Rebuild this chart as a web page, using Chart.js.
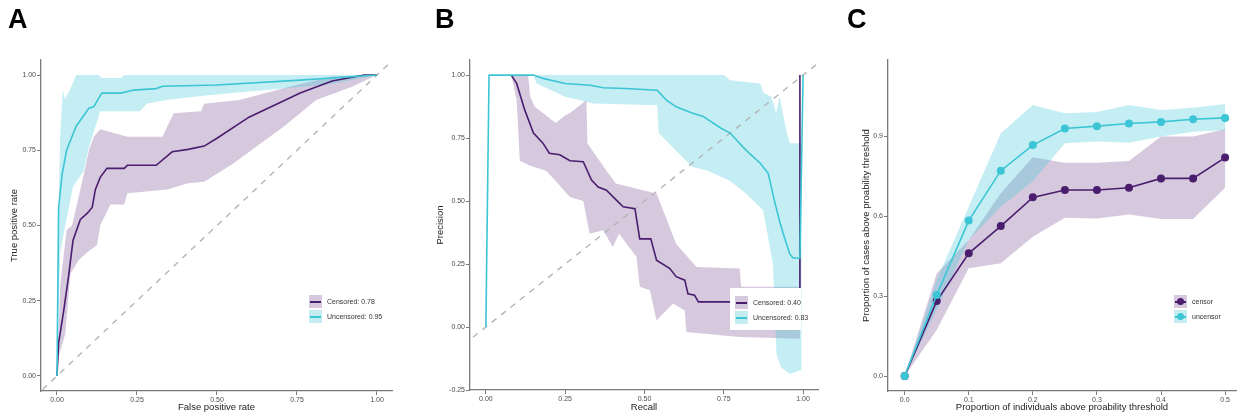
<!DOCTYPE html>
<html lang="en">
<head>
<meta charset="UTF-8">
<title>ROC, precision-recall and threshold curves</title>
<script src="https://cdn.jsdelivr.net/npm/chart.js@4.4.0/dist/chart.umd.min.js"></script>
<style>
  body { margin: 0; background: #fff; font-family: "Liberation Sans", Arial, sans-serif; }
  #wrap { position: relative; width: 1240px; height: 420px; overflow: hidden; }
  canvas { position: absolute; top: 0; }
  .tag { position: absolute; top: 6px; font-size: 27px; font-weight: bold; line-height: 1; color: #000; }
  .legend { position: absolute; font-size: 7px; color: #333; }
  .legend.boxed { background: #fff; }
  .row { position: relative; height: 15px; }
  .key { position: absolute; left: 0; top: 0; width: 13px; height: 13px; }
  .key::after { content: ""; position: absolute; left: 1px; right: 1px; top: 5.5px; height: 2px; background: var(--c); }
  .key.dot::before { content: ""; position: absolute; left: 3px; top: 3px; width: 7px; height: 7px; border-radius: 50%; background: var(--c); }
  .lab { position: absolute; left: 18px; top: 0; line-height: 13px; white-space: nowrap; }
  .cen { background: #d6c9de; --c: #4a1d6e; }
  .unc { background: #c4ecf1; --c: #3cc5d5; }
</style>
</head>
<body>
<div id="wrap">
  <canvas id="chartA" width="410" height="420" style="left:0"></canvas>
  <canvas id="chartB" width="420" height="420" style="left:410px"></canvas>
  <canvas id="chartC" width="410" height="420" style="left:830px"></canvas>

  <div class="tag" style="left:8px">A</div>
  <div class="tag" style="left:435px">B</div>
  <div class="tag" style="left:847px">C</div>

  <div class="legend" style="left:309px;top:295px">
    <div class="row"><span class="key cen"></span><span class="lab">Censored: 0.78</span></div>
    <div class="row"><span class="key unc"></span><span class="lab">Uncensored: 0.95</span></div>
  </div>
  <div class="legend boxed" style="left:730px;top:288px;width:71px;height:42px">
    <div style="position:absolute;left:5px;top:8px">
      <div class="row"><span class="key cen"></span><span class="lab">Censored: 0.40</span></div>
      <div class="row"><span class="key unc"></span><span class="lab">Uncensored: 0.83</span></div>
    </div>
  </div>
  <div class="legend" style="left:1174px;top:295px">
    <div class="row"><span class="key dot cen"></span><span class="lab">censor</span></div>
    <div class="row"><span class="key dot unc"></span><span class="lab">uncensor</span></div>
  </div>
</div>

<script>
  // --- Panel A: ROC (false positive rate, true positive rate) ---
  const rocUncensored = [[0,0],[0.005,0.56],[0.016,0.67],[0.03,0.75],[0.06,0.83],[0.1,0.89],[0.115,0.895],[0.14,0.94],[0.2,0.94],[0.24,0.95],[0.31,0.955],[0.33,0.963],[0.5,0.967],[0.76,0.983],[0.86,0.99],[1,1]];
  const rocUncensoredHi = [[0,0],[0.003,0.45],[0.01,0.8],[0.018,0.95],[0.025,0.92],[0.04,0.95],[0.06,1],[0.13,1],[0.14,0.99],[0.2,0.99],[0.21,1],[1,1]];
  const rocUncensoredLo = [[0,0],[0.01,0.41],[0.026,0.5],[0.05,0.63],[0.083,0.68],[0.1,0.76],[0.135,0.88],[0.26,0.88],[0.28,0.905],[0.34,0.917],[0.45,0.93],[0.6,0.945],[0.76,0.96],[0.86,0.97],[1,1]];
  const rocCensored = [[0,0],[0.005,0.11],[0.02,0.21],[0.036,0.33],[0.05,0.45],[0.073,0.52],[0.094,0.54],[0.11,0.56],[0.12,0.62],[0.135,0.66],[0.156,0.69],[0.21,0.69],[0.22,0.7],[0.31,0.7],[0.36,0.745],[0.41,0.753],[0.46,0.764],[0.5,0.79],[0.6,0.86],[0.76,0.94],[0.86,0.98],[0.96,1],[1,1]];
  const rocCensoredHi = [[0,0],[0.01,0.3],[0.03,0.485],[0.047,0.5],[0.073,0.62],[0.1,0.75],[0.115,0.795],[0.135,0.82],[0.22,0.795],[0.33,0.795],[0.345,0.83],[0.365,0.873],[0.45,0.88],[0.46,0.905],[0.57,0.917],[0.76,0.97],[0.86,0.995],[1,1]];
  const rocCensoredLo = [[0,0],[0.005,0.064],[0.026,0.14],[0.042,0.34],[0.068,0.385],[0.094,0.41],[0.125,0.435],[0.135,0.5],[0.167,0.57],[0.21,0.57],[0.22,0.607],[0.345,0.62],[0.41,0.64],[0.46,0.645],[0.55,0.705],[0.71,0.83],[0.81,0.917],[0.92,0.96],[1,1]];

  // --- Panel B: precision-recall (recall, precision) ---
  const prUncensored = [[0,0],[0.01,1],[0.15,1],[0.18,0.987],[0.25,0.967],[0.33,0.96],[0.37,0.95],[0.44,0.947],[0.54,0.94],[0.57,0.9],[0.6,0.874],[0.65,0.85],[0.685,0.836],[0.74,0.79],[0.77,0.77],[0.81,0.715],[0.83,0.69],[0.865,0.65],[0.89,0.61],[0.91,0.5],[0.926,0.42],[0.94,0.36],[0.958,0.29],[0.968,0.274],[0.99,0.274],[1,1]];
  const prUncensoredHi = [[0.15,1],[0.75,1],[0.77,0.98],[0.865,0.967],[0.875,0.93],[0.9,0.914],[0.915,0.85],[0.926,0.914],[0.947,0.78],[0.958,0.73],[0.995,0.73]];
  const prUncensoredLo = [[0.15,1],[0.16,0.967],[0.25,0.914],[0.34,0.887],[0.54,0.88],[0.545,0.77],[0.6,0.7],[0.65,0.636],[0.7,0.62],[0.77,0.58],[0.82,0.53],[0.874,0.464],[0.905,0.25],[0.916,-0.106],[0.93,-0.16],[0.958,-0.186],[0.995,-0.17]];
  const prCensored = [[0.08,1],[0.097,0.967],[0.123,0.86],[0.15,0.77],[0.18,0.73],[0.2,0.69],[0.233,0.684],[0.265,0.66],[0.307,0.656],[0.333,0.583],[0.354,0.556],[0.38,0.543],[0.417,0.497],[0.433,0.477],[0.47,0.47],[0.485,0.35],[0.52,0.35],[0.538,0.265],[0.58,0.232],[0.6,0.2],[0.627,0.186],[0.637,0.132],[0.658,0.126],[0.67,0.1],[0.99,0.1],[0.99,1]];
  const prCensoredHi = [[0.08,1],[0.133,1],[0.14,0.914],[0.154,0.874],[0.18,0.85],[0.22,0.81],[0.25,0.84],[0.265,0.85],[0.275,0.86],[0.317,0.9],[0.32,0.73],[0.38,0.62],[0.41,0.57],[0.495,0.543],[0.538,0.53],[0.567,0.437],[0.6,0.33],[0.664,0.238],[0.8,0.232],[0.805,0.16],[0.99,0.16]];
  const prCensoredLo = [[0.08,1],[0.097,0.9],[0.107,0.66],[0.14,0.64],[0.19,0.62],[0.22,0.58],[0.265,0.516],[0.307,0.5],[0.327,0.37],[0.37,0.384],[0.4,0.318],[0.42,0.37],[0.475,0.278],[0.485,0.16],[0.517,0.146],[0.538,0.026],[0.59,0.093],[0.627,0.066],[0.632,-0.02],[0.8,-0.04],[0.99,-0.047]];

  // --- Panel C: proportion of cases above threshold ---
  const thresholds = [0, 0.05, 0.1, 0.15, 0.2, 0.25, 0.3, 0.35, 0.4, 0.45, 0.5];
  const uncensor   = [0, 0.304, 0.583, 0.77, 0.866, 0.928, 0.937, 0.947, 0.953, 0.963, 0.968];
  const uncensorHi = [0, 0.36, 0.635, 0.91, 1.016, 0.985, 0.99, 1.016, 0.998, 1.006, 1.02];
  const uncensorLo = [0, 0.25, 0.51, 0.635, 0.73, 0.873, 0.879, 0.875, 0.898, 0.916, 0.922];
  const censor     = [0, 0.281, 0.46, 0.5625, 0.67, 0.6975, 0.6975, 0.706, 0.741, 0.741, 0.819];
  const censorHi   = [0, 0.385, 0.51, 0.685, 0.82, 0.8, 0.8, 0.806, 0.898, 0.898, 0.925];
  const censorLo   = [0, 0.1725, 0.404, 0.4225, 0.5225, 0.594, 0.591, 0.606, 0.589, 0.589, 0.706];

  const ticksUnit = [0, 0.25, 0.5, 0.75, 1];
  const ticksPrecision = [-0.25, 0, 0.25, 0.5, 0.75, 1];
  const ticksCx = [0, 0.1, 0.2, 0.3, 0.4, 0.5];
  const ticksCy = [0, 0.3, 0.6, 0.9];

  const FONT = '"Liberation Sans", Arial, sans-serif';
  const PURPLE = '#4a1d6e', PURPLE_FILL = 'rgba(120,75,145,0.3)';
  const CYAN = '#3cc5d5', CYAN_FILL = 'rgba(60,200,215,0.3)';

  const toPts = arr => arr.map(([x, y]) => ({ x, y }));
  const zipPts = (xs, ys) => xs.map((x, i) => [x, ys[i]]);

  function band(up, lo, color, order) {
    return { data: toPts(up.concat(lo.slice().reverse())), fill: 'shape', backgroundColor: color,
             borderWidth: 0, pointRadius: 0, order: order };
  }
  function curve(pts, color, order, radius) {
    return { data: toPts(pts), borderColor: color, backgroundColor: color, borderWidth: 1.6,
             pointRadius: radius || 0, pointBorderWidth: 0, fill: false, order: order };
  }
  function diagonal() {
    return { data: toPts([[-0.1, -0.1], [1.1, 1.1]]), borderColor: '#b5b5b5', borderDash: [6, 6],
             borderWidth: 1.4, pointRadius: 0, fill: false, order: 4 };
  }

  function scaleOpts(min, max, ticks, digits, title, size, isX) {
    return {
      type: 'linear', min: min, max: max,
      grid: { display: true, drawOnChartArea: false, drawTicks: true, tickLength: 4, color: '#7a7a7a' },
      border: { display: true, color: '#7a7a7a', width: 1.3 },
      ticks: { padding: 1, color: '#4d4d4d', autoSkip: false, maxRotation: 0,
               font: { size: 7, family: FONT }, callback: v => Number(v).toFixed(digits) },
      title: { display: true, text: title, color: '#222', font: { size: 9.5, family: FONT },
               padding: isX ? { top: 0, bottom: 7 } : { top: 9, bottom: 0 } },
      afterBuildTicks: s => { s.ticks = ticks.map(v => ({ value: v })); },
      afterFit: s => { if (isX) s.height = size; else s.width = size; }
    };
  }

  function makeChart(id, datasets, x, y, padding) {
    return new Chart(document.getElementById(id), {
      type: 'line',
      data: { datasets: datasets },
      options: {
        responsive: false, animation: false, events: [],
        layout: { padding: padding },
        plugins: { legend: { display: false }, tooltip: { enabled: false } },
        elements: { line: { tension: 0 } },
        scales: { x: x, y: y }
      }
    });
  }

  makeChart('chartA', [
      band(rocCensoredHi, rocCensoredLo, PURPLE_FILL, 6),
      band(rocUncensoredHi, rocUncensoredLo, CYAN_FILL, 5),
      diagonal(),
      curve(rocCensored, PURPLE, 2),
      curve(rocUncensored, CYAN, 1)
    ],
    scaleOpts(-0.05, 1.047, ticksUnit, 2, 'False positive rate', 29, true),
    scaleOpts(-0.05, 1.05, ticksUnit, 2, 'True positive rate', 41, false),
    { left: 0, top: 60, right: 18, bottom: 0 });

  makeChart('chartB', [
      band(prCensoredHi, prCensoredLo, PURPLE_FILL, 6),
      band(prUncensoredHi, prUncensoredLo, CYAN_FILL, 5),
      diagonal(),
      curve(prCensored, PURPLE, 2),
      curve(prUncensored, CYAN, 1)
    ],
    scaleOpts(-0.05, 1.047, ticksUnit, 2, 'Recall', 30, true),
    scaleOpts(-0.25, 1.06, ticksPrecision, 2, 'Precision', 44, false),
    { left: 16, top: 60, right: 12, bottom: 0 });

  makeChart('chartC', [
      band(zipPts(thresholds, censorHi), zipPts(thresholds, censorLo), PURPLE_FILL, 6),
      band(zipPts(thresholds, uncensorHi), zipPts(thresholds, uncensorLo), CYAN_FILL, 5),
      curve(zipPts(thresholds, censor), PURPLE, 2, 4),
      curve(zipPts(thresholds, uncensor), CYAN, 1, 4)
    ],
    scaleOpts(-0.026, 0.517, ticksCx, 1, 'Proportion of individuals above proability threshold', 29, true),
    scaleOpts(-0.056, 1.185, ticksCy, 1, 'Proportion of cases above proability threshold', 36, false),
    { left: 22, top: 60, right: 0, bottom: 0 });
</script>
</body>
</html>
